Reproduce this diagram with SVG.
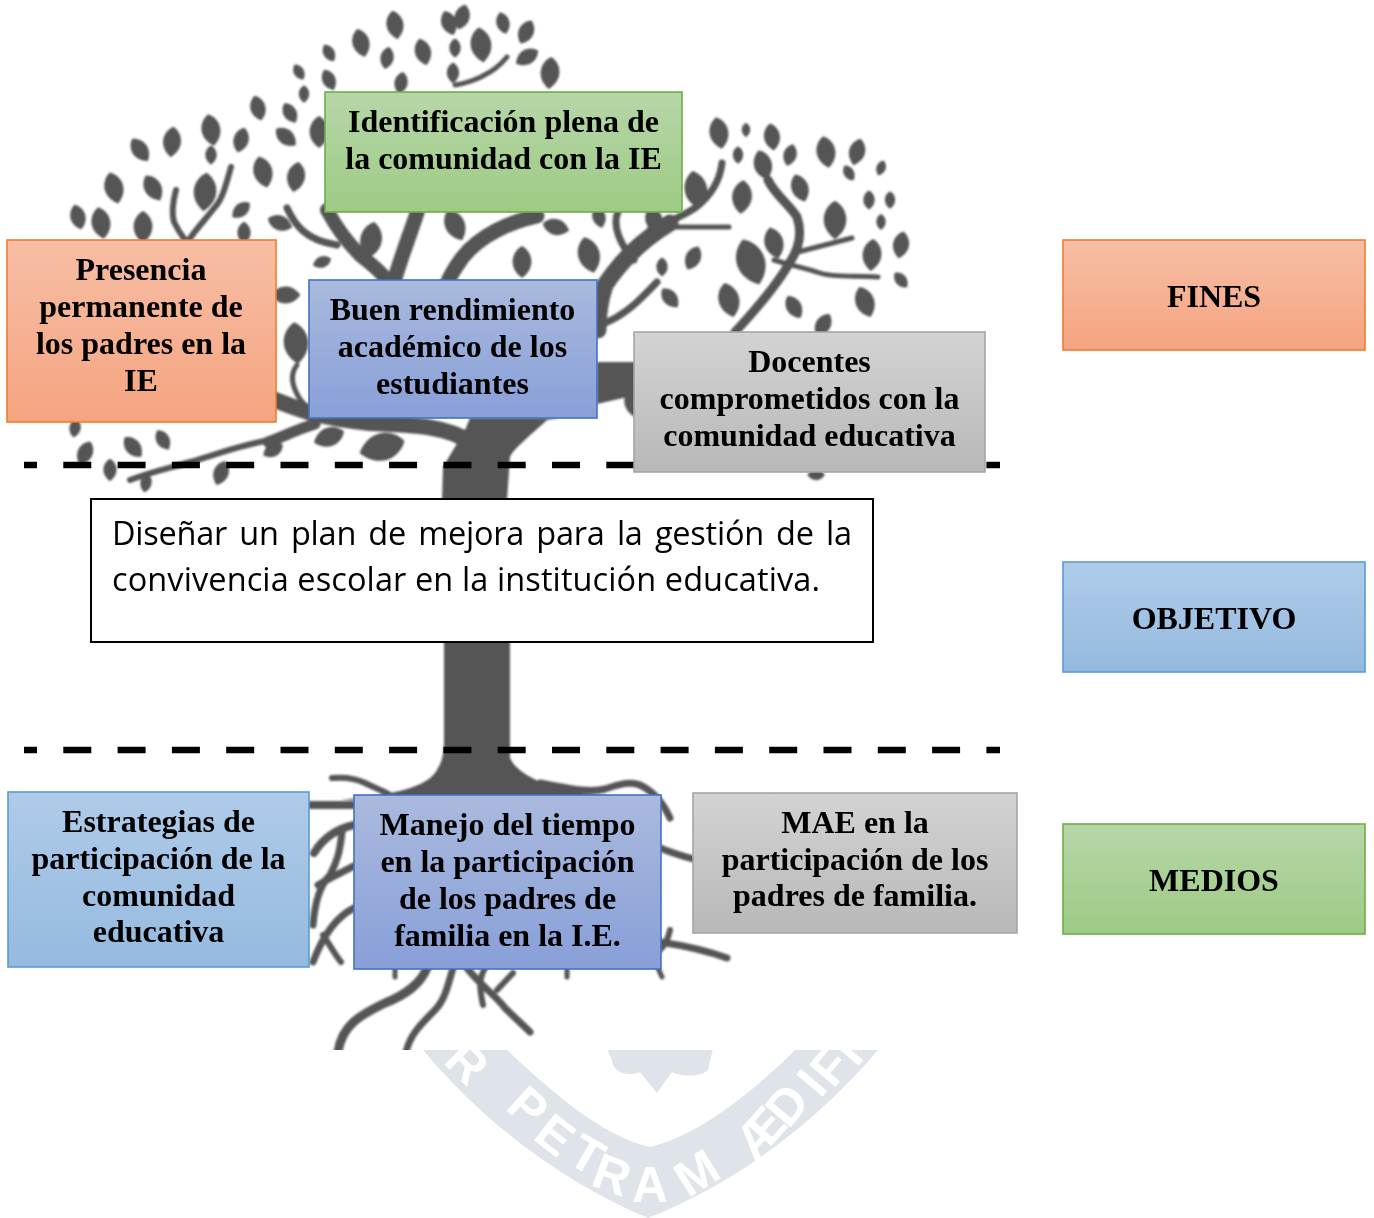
<svg xmlns="http://www.w3.org/2000/svg" width="1374" height="1218" viewBox="0 0 1374 1218">
<style>
.box{stroke-width:1.6}
.t{font-family:"Liberation Serif","Times New Roman",serif;font-weight:700;font-size:32px;fill:#000;text-anchor:middle}
.m{font-family:"Open Sans","Noto Sans",sans-serif;font-size:32.500px;fill:#000}
.wm{font-family:"Liberation Sans",Arial,sans-serif;font-weight:700;font-size:50px;fill:#fff;text-anchor:middle}
.b{fill:none;stroke:#555;stroke-linecap:round;stroke-linejoin:round}
.d{fill:none;stroke:#000;stroke-width:6.500;stroke-dasharray:28 26.300;stroke-dashoffset:15}
.lf{fill:#555}
</style>
<defs>
<linearGradient id="go" x1="0" y1="0" x2="0" y2="1"><stop offset="0" stop-color="#f7bea5"/><stop offset="1" stop-color="#f5a480"/></linearGradient>
<linearGradient id="gb" x1="0" y1="0" x2="0" y2="1"><stop offset="0" stop-color="#aabade"/><stop offset="1" stop-color="#889fd8"/></linearGradient>
<linearGradient id="gl" x1="0" y1="0" x2="0" y2="1"><stop offset="0" stop-color="#afcbe9"/><stop offset="1" stop-color="#95badf"/></linearGradient>
<linearGradient id="gg" x1="0" y1="0" x2="0" y2="1"><stop offset="0" stop-color="#b7d6a8"/><stop offset="1" stop-color="#9dcb84"/></linearGradient>
<linearGradient id="gy" x1="0" y1="0" x2="0" y2="1"><stop offset="0" stop-color="#d3d3d3"/><stop offset="1" stop-color="#b8b8b8"/></linearGradient>
<filter id="soft" x="-5%" y="-5%" width="110%" height="110%"><feGaussianBlur stdDeviation="0.8"/></filter>
<filter id="soft2" x="-5%" y="-50%" width="110%" height="200%"><feGaussianBlur stdDeviation="3"/></filter>
<clipPath id="low"><rect x="0" y="1050" width="1374" height="168"/></clipPath>
<clipPath id="up"><rect x="0" y="0" width="1374" height="1050"/></clipPath>
<path id="l" d="M0-16C11-10 14 6 0 16C-14 6-11-10 0-16Z"/>
</defs>
<rect width="1374" height="1218" fill="#fff"/>

<g id="watermark" clip-path="url(#low)">
<path d="M423 1050C490 1130 570 1185 648 1218C730 1185 810 1130 878 1050H795C755 1090 700 1135 650 1147C600 1135 550 1090 507 1050Z" fill="#dfe3ea"/>
<path d="M603 1040H715L708 1070C700 1078 680 1076 672 1072L657 1093L640 1072C625 1078 612 1070 612 1060Z" fill="#dfe3ea"/>
<g class="wm">
<text transform="translate(467 1063) rotate(45)" y="17">R</text>
<text transform="translate(528 1107) rotate(42)" y="17">P</text>
<text transform="translate(555 1135) rotate(38)" y="17">E</text>
<text transform="translate(587 1155) rotate(30)" y="17">T</text>
<text transform="translate(612 1175) rotate(20)" y="17">R</text>
<text transform="translate(650 1185) rotate(0)" y="17">A</text>
<text transform="translate(697 1173) rotate(-32)" y="17">M</text>
<text transform="translate(760 1133) rotate(-48)" y="17">Æ</text>
<text transform="translate(787 1105) rotate(-50)" y="17">D</text>
<text transform="translate(812 1083) rotate(-50)" y="17">I</text>
<text transform="translate(830 1067) rotate(-50)" y="17">F</text>
<text transform="translate(848 1052) rotate(-50)" y="17">I</text>
</g>
</g>

<g id="tree" clip-path="url(#up)">
<g filter="url(#soft)">
<g class="lf">
<use href="#l" transform="translate(395 25) rotate(-10) scale(.9)"/><use href="#l" transform="translate(449 23) rotate(-20) scale(.8)"/><use href="#l" transform="translate(462 17) rotate(15) scale(.8)"/><use href="#l" transform="translate(503 23) rotate(-15) scale(.7)"/><use href="#l" transform="translate(526 32) rotate(25) scale(.8)"/><use href="#l" transform="translate(361 43) rotate(-15) scale(.9)"/><use href="#l" transform="translate(329 53) rotate(-30) scale(.6)"/><use href="#l" transform="translate(387 58) rotate(10) scale(.7)"/><use href="#l" transform="translate(423 52) rotate(-15) scale(.85)"/><use href="#l" transform="translate(455 48) rotate(0) scale(.6)"/><use href="#l" transform="translate(481 45) rotate(-8) scale(1.1)"/><use href="#l" transform="translate(527 57) rotate(60) scale(.8)"/><use href="#l" transform="translate(550 73) rotate(5) scale(1)"/><use href="#l" transform="translate(299 72) rotate(-30) scale(.55)"/><use href="#l" transform="translate(329 80) rotate(-25) scale(.7)"/><use href="#l" transform="translate(453 73) rotate(0) scale(.65)"/><use href="#l" transform="translate(401 83) rotate(10) scale(.7)"/><use href="#l" transform="translate(304 94) rotate(0) scale(.55)"/><use href="#l" transform="translate(258 108) rotate(-15) scale(.8)"/><use href="#l" transform="translate(290 113) rotate(-30) scale(.7)"/><use href="#l" transform="translate(211 130) rotate(-10) scale(1)"/><use href="#l" transform="translate(172 142) rotate(5) scale(.95)"/><use href="#l" transform="translate(241 140) rotate(15) scale(.8)"/><use href="#l" transform="translate(286 137) rotate(-50) scale(.8)"/><use href="#l" transform="translate(319 132) rotate(0) scale(1)"/><use href="#l" transform="translate(140 150) rotate(-35) scale(.85)"/><use href="#l" transform="translate(211 155) rotate(0) scale(.6)"/><use href="#l" transform="translate(263 172) rotate(-15) scale(1)"/><use href="#l" transform="translate(296 177) rotate(10) scale(.95)"/><use href="#l" transform="translate(114 188) rotate(-15) scale(1)"/><use href="#l" transform="translate(153 188) rotate(-30) scale(.9)"/><use href="#l" transform="translate(205 192) rotate(5) scale(1.2)"/><use href="#l" transform="translate(78 217) rotate(-15) scale(.8)"/><use href="#l" transform="translate(101 223) rotate(-10) scale(1)"/><use href="#l" transform="translate(143 227) rotate(0) scale(1)"/><use href="#l" transform="translate(241 210) rotate(50) scale(.7)"/><use href="#l" transform="translate(244 233) rotate(0) scale(.7)"/><use href="#l" transform="translate(280 223) rotate(-70) scale(.8)"/>
<use href="#l" transform="translate(719 133) rotate(-10) scale(1)"/><use href="#l" transform="translate(746 130) rotate(0) scale(.45)"/><use href="#l" transform="translate(772 137) rotate(-8) scale(.85)"/><use href="#l" transform="translate(738 155) rotate(0) scale(.55)"/><use href="#l" transform="translate(763 165) rotate(-15) scale(.95)"/><use href="#l" transform="translate(790 155) rotate(15) scale(.7)"/><use href="#l" transform="translate(826 152) rotate(-10) scale(1)"/><use href="#l" transform="translate(857 152) rotate(15) scale(.85)"/><use href="#l" transform="translate(849 173) rotate(-30) scale(.55)"/><use href="#l" transform="translate(881 168) rotate(20) scale(.5)"/><use href="#l" transform="translate(696 190) rotate(-10) scale(1.2)"/><use href="#l" transform="translate(742 197) rotate(5) scale(1.05)"/><use href="#l" transform="translate(800 188) rotate(-20) scale(.9)"/><use href="#l" transform="translate(869 200) rotate(0) scale(.6)"/><use href="#l" transform="translate(890 200) rotate(0) scale(.55)"/><use href="#l" transform="translate(881 222) rotate(0) scale(.5)"/><use href="#l" transform="translate(835 220) rotate(0) scale(1.2)"/><use href="#l" transform="translate(774 243) rotate(-15) scale(1)"/><use href="#l" transform="translate(901 245) rotate(10) scale(.85)"/><use href="#l" transform="translate(872 255) rotate(5) scale(1)"/><use href="#l" transform="translate(751 262) rotate(-20) scale(1.5)"/><use href="#l" transform="translate(901 280) rotate(-40) scale(.6)"/><use href="#l" transform="translate(865 302) rotate(-20) scale(1)"/><use href="#l" transform="translate(729 300) rotate(-15) scale(1.1)"/><use href="#l" transform="translate(794 307) rotate(-30) scale(.8)"/><use href="#l" transform="translate(823 325) rotate(30) scale(.8)"/><use href="#l" transform="translate(670 298) rotate(-40) scale(.75)"/><use href="#l" transform="translate(693 258) rotate(25) scale(.8)"/><use href="#l" transform="translate(662 267) rotate(0) scale(.6)"/><use href="#l" transform="translate(589 255) rotate(-15) scale(1.15)"/><use href="#l" transform="translate(522 262) rotate(0) scale(1)"/><use href="#l" transform="translate(371 240) rotate(10) scale(1.15)"/><use href="#l" transform="translate(322 262) rotate(70) scale(.6)"/><use href="#l" transform="translate(455 225) rotate(-25) scale(1.05)"/><use href="#l" transform="translate(556 227) rotate(-75) scale(.85)"/><use href="#l" transform="translate(599 217) rotate(-15) scale(.7)"/><use href="#l" transform="translate(654 220) rotate(-15) scale(.9)"/><use href="#l" transform="translate(286 295) rotate(-90) scale(.9)"/><use href="#l" transform="translate(296 343) rotate(-5) scale(1.3)"/><use href="#l" transform="translate(634 403) rotate(-15) scale(1)"/>
<use href="#l" transform="translate(75 428) rotate(10) scale(.6)"/><use href="#l" transform="translate(85 453) rotate(25) scale(.8)"/><use href="#l" transform="translate(133 447) rotate(-40) scale(.8)"/><use href="#l" transform="translate(163 440) rotate(-30) scale(.7)"/><use href="#l" transform="translate(110 470) rotate(0) scale(.7)"/><use href="#l" transform="translate(146 483) rotate(10) scale(.6)"/><use href="#l" transform="translate(221 473) rotate(20) scale(.8)"/><use href="#l" transform="translate(329 437) rotate(70) scale(1)"/><use href="#l" transform="translate(273 450) rotate(60) scale(.7)"/><use href="#l" transform="translate(382 447) rotate(75) scale(1.45)"/><use href="#l" transform="translate(816 475) rotate(90) scale(.55)"/>
</g>
<path d="M442 500L443 467L465 430L470 418H560L547 420C530 436 514 448 510 457L507 500Z" fill="#555"/>
<path d="M597 362H636V395L597 404Z" fill="#555"/>
<g class="b">
<path stroke-width="16" d="M270 398C300 410 320 418 370 423C410 425 445 425 470 442"/>
<path stroke-width="11" d="M268 442C285 436 295 430 315 424"/>
<path stroke-width="6" d="M270 440C240 445 215 455 190 462C170 468 150 472 130 480"/>
<path stroke-width="14" d="M327 210C335 225 345 240 360 255C372 265 382 272 388 282"/>
<path stroke-width="15" d="M417 213C408 240 400 260 394 282"/>
<path stroke-width="7" d="M287 208C295 225 305 240 337 245"/>
<path stroke-width="15" d="M537 216C510 222 480 235 462 258C455 268 450 275 447 284"/>
<path stroke-width="17" d="M670 223C650 235 625 255 605 285C600 300 598 315 598 330"/>
<path stroke-width="7" d="M657 282C640 300 625 315 605 323"/>
<path stroke-width="7" d="M722 163C720 180 712 195 695 208C680 218 660 225 651 228"/>
<path stroke-width="5" d="M729 227H664"/>
<path stroke-width="7" d="M618 212C612 225 620 245 634 260"/>
<path stroke-width="9" d="M768 180C775 195 790 205 797 217C803 235 798 250 790 262C780 280 760 305 735 332"/>
<path stroke-width="5" d="M852 238L794 253"/>
<path stroke-width="5" d="M878 277C855 275 835 278 820 273C805 268 790 265 774 260"/>
<path stroke-width="5" d="M507 57C498 68 490 72 481 77C470 82 462 84 455 85"/>
<path stroke-width="6" d="M231 167C226 185 222 200 215 207C205 220 195 230 189 240"/>
<path stroke-width="6" d="M176 190C172 205 172 215 174 222C178 230 182 236 185 240"/>
<path stroke-width="5" d="M297 365C285 380 300 400 305 405"/>
</g>
<path d="M444 640H510V758C516 772 540 784 565 790C585 795 620 797 640 800H340C385 795 428 790 438 768C443 760 444 750 444 740Z" fill="#555"/>
<g class="b">
<path stroke-width="6" d="M332 778C345 777 355 778 365 783C375 788 382 790 390 795"/>
<path stroke-width="7" d="M540 783C565 788 590 793 605 789C620 784 630 781 640 785C655 792 664 805 670 818"/>
<path stroke-width="8" d="M310 805H354"/>
<path stroke-width="8" d="M354 825C340 828 325 835 314 853"/>
<path stroke-width="7" d="M342 832C340 850 338 860 330 875C320 885 315 900 313 925"/>
<path stroke-width="7" d="M354 866C340 873 330 878 318 885"/>
<path stroke-width="7" d="M354 908C340 915 325 930 313 962"/>
<path stroke-width="6" d="M323 935C330 945 335 955 341 962"/>
<path stroke-width="7" d="M660 848C670 852 685 857 694 859"/>
<path stroke-width="7" d="M660 942C680 945 705 950 727 958"/>
<path stroke-width="6" d="M670 930C668 940 664 946 660 950"/>
<path stroke-width="9" d="M427 968C420 985 405 995 385 1003C360 1015 342 1025 338 1052"/>
<path stroke-width="7" d="M453 968C448 985 445 1000 435 1010C420 1025 410 1035 406 1052"/>
<path stroke-width="7" d="M467 968C480 985 495 995 505 1008C515 1018 523 1025 530 1032"/>
<path stroke-width="6" d="M485 968C478 980 480 990 483 1005"/>
<path stroke-width="6" d="M513 973L497 990"/>
<path stroke-width="5" d="M395 968V977M567 968V977M658 968L662 977"/>
</g>
</g>
<path d="M18 762H1000" stroke="#ededed" stroke-width="14" stroke-dasharray="3 4" fill="none" filter="url(#soft2)"/>
</g>

<g id="connectors">
<path class="d" d="M24 465H1000"/>
<path class="d" d="M24 750H1000"/>
</g>

<g id="n-identificacion"><rect class="box" x="325" y="92" width="357" height="120" fill="url(#gg)" stroke="#70ad47"/>
<text class="t" x="503.500" y="132">Identificación plena de</text><text class="t" x="503.500" y="169">la comunidad con la IE</text></g>
<g id="n-presencia"><rect class="box" x="7" y="240" width="269" height="182" fill="url(#go)" stroke="#ed7d31"/>
<text class="t" x="141" y="280">Presencia</text><text class="t" x="141" y="317">permanente de</text><text class="t" x="141" y="354">los padres en la</text><text class="t" x="141" y="391">IE</text></g>
<g id="n-rendimiento"><rect class="box" x="309" y="280" width="288" height="138" fill="url(#gb)" stroke="#4472c4"/>
<text class="t" x="452.500" y="320">Buen rendimiento</text><text class="t" x="452.500" y="357">académico de los</text><text class="t" x="452.500" y="394">estudiantes</text></g>
<g id="n-docentes"><rect class="box" x="634" y="332" width="351" height="140" fill="url(#gy)" stroke="#a5a5a5"/>
<text class="t" x="809.500" y="372">Docentes</text><text class="t" x="809.500" y="409">comprometidos con la</text><text class="t" x="809.500" y="446">comunidad educativa</text></g>
<g id="n-objetivo-central"><rect x="91" y="499" width="782" height="143" fill="#fff" stroke="#000" stroke-width="2"/>
<text class="m" x="112" y="545" textLength="740" lengthAdjust="spacing" word-spacing="4">Diseñar un plan de mejora para la gestión de la</text>
<text class="m" x="112" y="591" textLength="708" lengthAdjust="spacing">convivencia escolar en la institución educativa.</text></g>
<g id="n-estrategias"><rect class="box" x="8" y="792" width="301" height="175" fill="url(#gl)" stroke="#5b9bd5"/>
<text class="t" x="158.500" y="832">Estrategias de</text><text class="t" x="158.500" y="869">participación de la</text><text class="t" x="158.500" y="906">comunidad</text><text class="t" x="158.500" y="942">educativa</text></g>
<g id="n-manejo"><rect class="box" x="354" y="795" width="307" height="174" fill="url(#gb)" stroke="#4472c4"/>
<text class="t" x="507.500" y="835">Manejo del tiempo</text><text class="t" x="507.500" y="872">en la participación</text><text class="t" x="507.500" y="909">de los padres de</text><text class="t" x="507.500" y="946">familia en la I.E.</text></g>
<g id="n-mae"><rect class="box" x="693" y="793" width="324" height="140" fill="url(#gy)" stroke="#a5a5a5"/>
<text class="t" x="855" y="833">MAE en la</text><text class="t" x="855" y="870">participación de los</text><text class="t" x="855" y="906">padres de familia.</text></g>
<g id="n-fines"><rect class="box" x="1063" y="240" width="302" height="110" fill="url(#go)" stroke="#ed7d31"/><text class="t" x="1214" y="307">FINES</text></g>
<g id="n-objetivo"><rect class="box" x="1063" y="562" width="302" height="110" fill="url(#gl)" stroke="#5b9bd5"/><text class="t" x="1214" y="629">OBJETIVO</text></g>
<g id="n-medios"><rect class="box" x="1063" y="824" width="302" height="110" fill="url(#gg)" stroke="#70ad47"/><text class="t" x="1214" y="891">MEDIOS</text></g>
</svg>
